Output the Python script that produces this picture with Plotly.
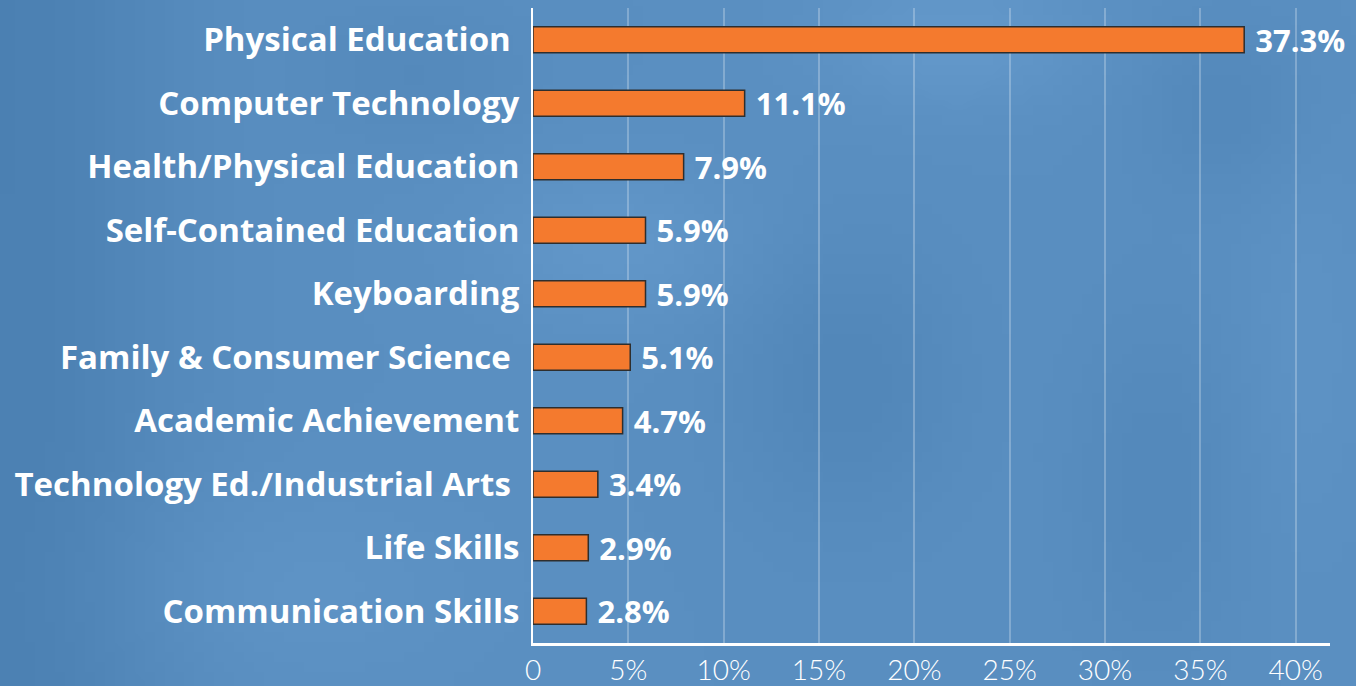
import base64
import struct
import zlib

import numpy as np
import plotly.graph_objects as go

categories = [
    "Physical Education ",
    "Computer Technology",
    "Health/Physical Education",
    "Self-Contained Education",
    "Keyboarding",
    "Family & Consumer Science ",
    "Academic Achievement",
    "Technology Ed./Industrial Arts ",
    "Life Skills",
    "Communication Skills",
]
values = [37.3, 11.1, 7.9, 5.9, 5.9, 5.1, 4.7, 3.4, 2.9, 2.8]
tick_vals = [0, 5, 10, 15, 20, 25, 30, 35, 40]
tick_text = ["0", "5%", "10%", "15%", "20%", "25%", "30%", "35%", "40%"]


# ---- soft blue background texture (decorative only) ----
def make_bg_png(w=136, h=69):
    yy, xx = np.mgrid[0:h, 0:w].astype(float)
    xx /= w
    yy /= h
    base = np.array([90, 143, 193], float)
    shade = np.zeros((h, w))
    shade -= 14 * np.exp(-((xx - 0.0) / 0.12) ** 2)
    blobs = [
        (0.45, 0.35, 0.10, 0.12, 8),
        (0.70, 0.05, 0.10, 0.10, 10),
        (0.62, 0.55, 0.08, 0.20, -8),
        (0.85, 0.70, 0.06, 0.25, -6),
        (0.90, 0.15, 0.06, 0.12, -6),
        (0.20, 0.85, 0.15, 0.15, 5),
        (0.96, 0.50, 0.05, 0.30, 4),
        (0.30, 0.10, 0.08, 0.10, -5),
    ]
    for cx, cy, sx, sy, a in blobs:
        shade += a * np.exp(-(((xx - cx) / sx) ** 2 + ((yy - cy) / sy) ** 2))
    img = np.clip(base[None, None, :] + shade[:, :, None], 0, 255).astype(np.uint8)
    raw = b"".join(b"\x00" + img[r].tobytes() for r in range(h))

    def chunk(tag, data):
        c = struct.pack(">I", len(data)) + tag + data
        return c + struct.pack(">I", zlib.crc32(tag + data) & 0xFFFFFFFF)

    png = b"\x89PNG\r\n\x1a\n"
    png += chunk(b"IHDR", struct.pack(">IIBBBBB", w, h, 8, 2, 0, 0, 0))
    png += chunk(b"IDAT", zlib.compress(raw, 9))
    png += chunk(b"IEND", b"")
    return "data:image/png;base64," + base64.b64encode(png).decode()


fig = go.Figure()
fig.add_trace(go.Bar(
    x=values,
    y=categories,
    orientation="h",
    width=0.41,
    marker=dict(color="#f47a2e", line=dict(color="#2e2e2e", width=1.5)),
    text=["\u00a0" + f"{v:.1f}%" for v in values],
    textposition="outside",
    constraintext="none",
    textfont=dict(family="Open Sans", size=31, color="white", weight="bold"),
    cliponaxis=False,
    hoverinfo="skip",
))

fig.add_layout_image(
    source=make_bg_png(),
    xref="paper", yref="paper",
    x=-533 / 797, y=1 + 8 / 635,
    sizex=1356 / 797, sizey=686 / 635,
    xanchor="left", yanchor="top",
    sizing="stretch", layer="below",
)

fig.update_layout(
    width=1356, height=686,
    margin=dict(l=533, r=26, t=8, b=43, autoexpand=False),
    paper_bgcolor="#5a8fc1",
    plot_bgcolor="rgba(0,0,0,0)",
    showlegend=False,
    bargap=0.59,
    xaxis=dict(
        range=[0, 41.8],
        tickvals=tick_vals,
        ticktext=tick_text,
        tickfont=dict(family="Lato", size=28, color="white", weight=300),
        showgrid=True,
        gridcolor="rgba(255,255,255,0.25)",
        gridwidth=2,
        zeroline=False,
        showline=True,
        linecolor="white",
        linewidth=3,
        ticks="",
        ticklen=0,
        automargin=False,
    ),
    yaxis=dict(
        autorange="reversed",
        tickfont=dict(family="Open Sans", size=33, color="white", weight="bold"),
        showline=True,
        linecolor="white",
        linewidth=2,
        showgrid=False,
        ticks="",
        ticklabelstandoff=5,
        automargin=False,
    ),
)

fig.write_html(
    "out.html",
    config={"displayModeBar": False, "staticPlot": True},
    post_script="document.body.style.margin='0';document.body.style.background='#5a8fc1';",
)
